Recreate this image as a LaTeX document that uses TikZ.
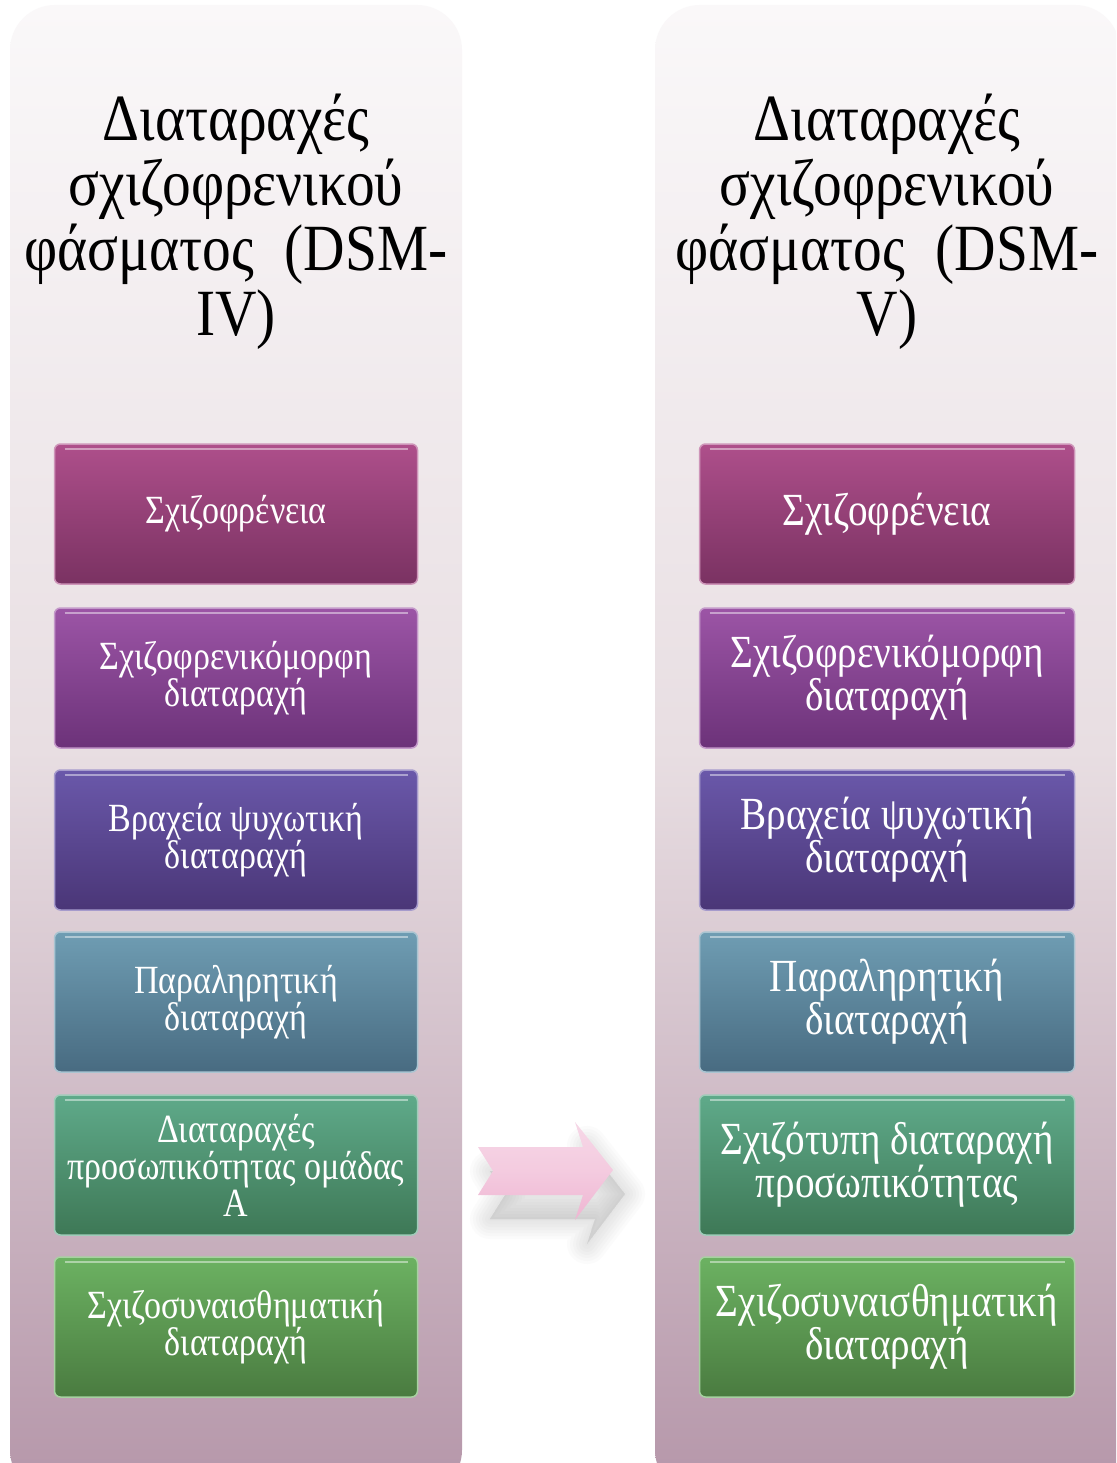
\documentclass[tikz,border=0pt]{standalone}
\usepackage{fontspec}
\setmainfont{Liberation Serif}
\newfontfamily\titlefont{Liberation Serif}[FakeStretch=0.87]
\newfontfamily\boxfont{Liberation Serif}[FakeStretch=0.85]

\definecolor{panelTop}{HTML}{FAF8F9}
\definecolor{panelMid}{HTML}{E8DEE2}
\definecolor{panelBot}{HTML}{B596A9}
\definecolor{sTop1}{HTML}{AE4F8B}
\definecolor{sBot1}{HTML}{7A3262}
\definecolor{sTop2}{HTML}{9C55A6}
\definecolor{sBot2}{HTML}{6C3279}
\definecolor{sTop3}{HTML}{6A58AA}
\definecolor{sBot3}{HTML}{4A3677}
\definecolor{sTop4}{HTML}{6F9DB3}
\definecolor{sBot4}{HTML}{486B81}
\definecolor{sTop5}{HTML}{5FAA8A}
\definecolor{sBot5}{HTML}{3E7856}
\definecolor{sTop6}{HTML}{6CB262}
\definecolor{sBot6}{HTML}{4A7B40}
\definecolor{arrowPink}{HTML}{ECA8CA}

\newcommand{\blockarrow}{(478,1147) -- (583,1147) -- (575,1122) -- (613,1170) -- (575,1220) -- (583,1195) -- (478,1195) -- (493,1171) -- cycle}

\tikzset{
    panel/.style={rounded corners=45pt, top color=panelTop, bottom color=panelBot, middle color=panelMid},
    title/.style={align=center, text=black, font=\titlefont\fontsize{66}{65}\selectfont},
    item/.style={rounded corners=6pt, minimum width=363pt, minimum height=140pt,
        top color=sTop#1, bottom color=sBot#1, draw=sTop#1!60!white, line width=1.5pt,
        text=white, align=center, font=\boxfont\fontsize{40}{37}\selectfont,
        path picture={\draw [white, opacity=.45, line width=2.5pt]
            ([xshift=10pt,yshift=-5pt]path picture bounding box.north west) --
            ([xshift=-10pt,yshift=-5pt]path picture bounding box.north east);}},
    bigitem/.style={item=#1, minimum width=375pt, font=\boxfont\fontsize{46}{43}\selectfont}
}

\begin{document}
\begin{tikzpicture}[x=1pt, y=-1pt]
    \useasboundingbox (0,0) rectangle (1116,1463);
    \clip (0,0) rectangle (1116,1463);
    \fill [white] (0,0) rectangle (1116,1463);
    \path [panel] (10,5) rectangle (462,1495);
    \path [panel] (655,5) rectangle (1120,1495);
    \node (tl) at (236,222) [title] {Διαταραχές\\σχιζοφρενικού\\φάσματος\hspace{.25em} (DSM-\\IV)};
    \node (tr) at (887,222) [title] {Διαταραχές\\σχιζοφρενικού\\φάσματος\hspace{.25em} (DSM-\\V)};
    \foreach \n/\y/\ltext/\rtext in {
        1/514/{Σχιζοφρένεια}/{Σχιζοφρένεια},
        2/678/{Σχιζοφρενικόμορφη\\διαταραχή}/{Σχιζοφρενικόμορφη\\διαταραχή},
        3/840/{Βραχεία ψυχωτική\\διαταραχή}/{Βραχεία ψυχωτική\\διαταραχή},
        4/1002/{Παραληρητική\\διαταραχή}/{Παραληρητική\\διαταραχή},
        5/1165/{Διαταραχές\\προσωπικότητας ομάδας\\Α}/{Σχιζότυπη διαταραχή\\προσωπικότητας},
        6/1327/{Σχιζοσυναισθηματική\\διαταραχή}/{Σχιζοσυναισθηματική\\διαταραχή}}{
        \node (l\n) at (236,\y) [item=\n] {\ltext};
        \node (r\n) at (887,\y) [bigitem=\n] {\rtext};
    }
    % soft shadow, then the block arrow between the two columns
    \foreach \w in {4,10,...,40}
        \filldraw [gray, opacity=.028, line width=\w pt, line join=round, shift={(12,24)}] \blockarrow;
    \path [top color=arrowPink!45!white, bottom color=arrowPink!85!white, middle color=arrowPink!60!white]
        \blockarrow;
\end{tikzpicture}
\end{document}
